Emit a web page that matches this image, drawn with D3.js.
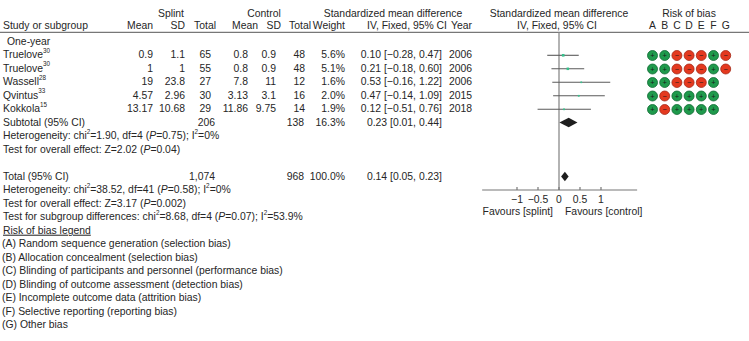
<!DOCTYPE html>
<html><head><meta charset="utf-8">
<script src="https://cdn.jsdelivr.net/npm/d3@7"></script>
<style>
body{margin:0;background:#fff;}
svg{display:block;font-family:"Liberation Sans",Arial,sans-serif;}
</style></head>
<body>
<svg id="c" width="749" height="341"></svg>
<script>
// ---------- data ----------
const studies   = ["Truelove","Truelove","Wassell","Qvintus","Kokkola"];
const refs      = ["30","30","28","33","15"];
const splintMean= ["0.9","1","19","4.57","13.17"];
const splintSD  = ["1.1","1","23.8","2.96","10.68"];
const splintN   = [65,55,27,30,29];
const ctrlMean  = ["0.8","0.8","7.8","3.13","11.86"];
const ctrlSD    = ["0.9","0.9","11","3.1","9.75"];
const ctrlN     = [48,48,12,16,14];
const weights   = [5.6,5.1,1.6,2.0,1.9];
const est       = [0.10,0.21,0.53,0.47,0.12];
const lo        = [-0.28,-0.18,-0.16,-0.14,-0.51];
const hi        = [0.47,0.60,1.22,1.09,0.76];
const years     = [2006,2006,2006,2015,2018];
const subtotal  = {splintN:"206", ctrlN:"138", weight:"16.3%", est:0.23, lo:0.01, hi:0.44};
const total     = {splintN:"1,074", ctrlN:"968", weight:"100.0%", est:0.14, lo:0.05, hi:0.23};
const biasLetters = ["A","B","C","D","E","F","G"];
const bias = [
  ["+","+","-","-","-","+","-"],
  ["+","+","-","-","-","+","-"],
  ["+","+","-","-","-","+",null],
  ["+","-","+","+","+","+",null],
  ["+","-","+","+","+","+",null]
];
const xTicks = [-1,-0.5,0,0.5,1];
const legendLines = [
  "(A) Random sequence generation (selection bias)",
  "(B) Allocation concealment (selection bias)",
  "(C) Blinding of participants and personnel (performance bias)",
  "(D) Blinding of outcome assessment (detection bias)",
  "(E) Incomplete outcome data (attrition bias)",
  "(F) Selective reporting (reporting bias)",
  "(G) Other bias"
];

// ---------- drawing ----------
const svg = d3.select("#c");
const FS = 10.4, TXT = "#262626";
const rowY = i => 41 + 13.5*i;       // vertical centre of row i
const base = y => y + 3.7;            // baseline from centre
const fmt = v => (v<0? "\u2212":"") + Math.abs(v).toFixed(2);
const ci = (e,l,h) => `${fmt(e)} [${fmt(l)}, ${fmt(h)}]`;

function txt(x,y,s,anchor="start",opts={}){
  return svg.append("text").attr("x",x).attr("y",base(y))
    .attr("text-anchor",anchor).attr("font-size",opts.fs||FS)
    .attr("fill",TXT).text(s);
}
// rich text with parts: [string, kind] kind: null | "sup" | "i"
function rich(x,y,parts){
  const t = svg.append("text").attr("x",x).attr("y",base(y)).attr("font-size",FS).attr("fill",TXT);
  let raised=false;
  parts.forEach(p=>{
    const [s,k] = Array.isArray(p)?p:[p,null];
    const ts = t.append("tspan").text(s);
    if(k==="sup"){ ts.attr("font-size",6.3).attr("dy",raised?0:-5.5); raised=true; }
    else { if(raised){ ts.attr("dy",5.5); raised=false; } if(k==="i") ts.attr("font-style","italic"); }
  });
  return t;
}

// headers
txt(171,13.3,"Splint","middle");
txt(264,13.3,"Control","middle");
txt(393,13.3,"Standardized mean difference","middle");
txt(559,13.3,"Standardized mean difference","middle");
txt(689,13.3,"Risk of bias","middle");
const hy = 25;
txt(3,hy,"Study or subgroup");
txt(153,hy,"Mean","end"); txt(185,hy,"SD","end"); txt(216,hy,"Total","end");
txt(258,hy,"Mean","end"); txt(281,hy,"SD","end"); txt(311,hy,"Total","end");
txt(345,hy,"Weight","end"); txt(447,hy,"IV, Fixed, 95% CI","end"); txt(472,hy,"Year","end");
txt(557,hy,"IV, Fixed, 95% CI","middle");

svg.append("line").attr("x1",0).attr("x2",749).attr("y1",32.3).attr("y2",32.3)
  .attr("stroke","#555").attr("stroke-width",1);

txt(7,rowY(0),"One-year");

// study rows
studies.forEach((s,i)=>{
  const y = rowY(i+1);
  rich(3,y,[s,[refs[i],"sup"]]);
  txt(153,y,splintMean[i],"end"); txt(185,y,splintSD[i],"end"); txt(211,y,String(splintN[i]),"end");
  txt(248,y,ctrlMean[i],"end"); txt(276,y,ctrlSD[i],"end"); txt(305,y,String(ctrlN[i]),"end");
  txt(345,y,weights[i].toFixed(1)+"%","end");
  txt(442,y,ci(est[i],lo[i],hi[i]),"end");
  txt(472,y,String(years[i]),"end");
});

// subtotal block
let y = rowY(6);
txt(3,y,"Subtotal (95% CI)");
txt(215,y,subtotal.splintN,"end"); txt(304,y,subtotal.ctrlN,"end");
txt(345,y,subtotal.weight,"end"); txt(442,y,ci(subtotal.est,subtotal.lo,subtotal.hi),"end");
rich(3,rowY(7),["Heterogeneity: chi",["2","sup"],"=1.90, df=4 (",["P","i"],"=0.75); I",["2","sup"],"=0%"]);
rich(3,rowY(8),["Test for overall effect: Z=2.02 (",["P","i"],"=0.04)"]);

y = rowY(10);
txt(3,y,"Total (95% CI)");
txt(215,y,total.splintN,"end"); txt(304,y,total.ctrlN,"end");
txt(345,y,total.weight,"end"); txt(442,y,ci(total.est,total.lo,total.hi),"end");
rich(3,rowY(11),["Heterogeneity: chi",["2","sup"],"=38.52, df=41 (",["P","i"],"=0.58); I",["2","sup"],"=0%"]);
rich(3,rowY(12),["Test for overall effect: Z=3.17 (",["P","i"],"=0.002)"]);
rich(3,rowY(13),["Test for subgroup differences: chi",["2","sup"],"=8.68, df=4 (",["P","i"],"=0.07); I",["2","sup"],"=53.9%"]);

txt(3,rowY(14),"Risk of bias legend").attr("text-decoration","underline");
legendLines.forEach((s,i)=>txt(2,rowY(15+i),s));

// forest plot
const x = d3.scaleLinear().domain([-1,1]).range([517,601]);
const axisY = 190;
svg.append("line").attr("x1",x(0)).attr("x2",x(0)).attr("y1",32.3).attr("y2",axisY)
  .attr("stroke","#8a8a8a").attr("stroke-width",1.3);

studies.forEach((s,i)=>{
  const yy = rowY(i+1)+0.8;
  svg.append("line").attr("x1",x(lo[i])).attr("x2",x(hi[i])).attr("y1",yy).attr("y2",yy)
    .attr("stroke","#5a5a5a").attr("stroke-width",1.1);
  const sz = 0.9*Math.sqrt(weights[i])+0.5;
  svg.append("rect").attr("x",x(est[i])-sz/2).attr("y",yy-sz/2).attr("width",sz).attr("height",sz)
    .attr("fill","#37c08c");
});
function diamond(d,yy,h){
  svg.append("path").attr("d",`M${x(d.lo)},${yy} L${x(d.est)},${yy-h/2} L${x(d.hi)},${yy} L${x(d.est)},${yy+h/2} Z`)
    .attr("fill","#1e1e1e");
}
diamond(subtotal,rowY(6)+0.6,9.5);
diamond(total,rowY(10)+0.4,9.5);

// axis
const g = svg.append("g").attr("transform",`translate(0,${axisY})`);
g.append("line").attr("x1",x(-1.83)).attr("x2",x(1.86)).attr("stroke","#777").attr("stroke-width",1.2);
g.selectAll(".tk").data(xTicks).enter().append("line")
  .attr("x1",d=>x(d)).attr("x2",d=>x(d)).attr("y1",-3).attr("y2",0).attr("stroke","#777").attr("stroke-width",1.2);
g.selectAll(".tl").data(xTicks).enter().append("text")
  .attr("x",d=>x(d)).attr("y",12.7).attr("text-anchor","middle").attr("font-size",FS).attr("fill",TXT)
  .text(d=>(d<0?"\u2212":"")+Math.abs(d));
txt(553,211,"Favours [splint]","end");
txt(565,211,"Favours [control]","start");

// risk of bias
const bx = d3.scaleBand().domain(biasLetters).range([646.4,731.8]);
biasLetters.forEach(l=>txt(bx(l)+bx.bandwidth()/2,25,l,"middle"));
bias.forEach((row,i)=>{
  const yy = rowY(i+1)+1;
  row.forEach((v,j)=>{
    if(!v) return;
    const cx = bx(biasLetters[j])+bx.bandwidth()/2;
    svg.append("circle").attr("cx",cx).attr("cy",yy).attr("r",5)
      .attr("fill",v==="+"?"#1f9a4c":"#e4391f")
      .attr("stroke",v==="+"?"#0f6a32":"#a32816").attr("stroke-width",0.8);
    svg.append("text").attr("x",cx).attr("y",yy+2.6).attr("text-anchor","middle")
      .attr("font-size",7.5).attr("fill","#1a1a1a").text(v==="+"?"+":"\u2212");
  });
});
</script>
</body></html>
